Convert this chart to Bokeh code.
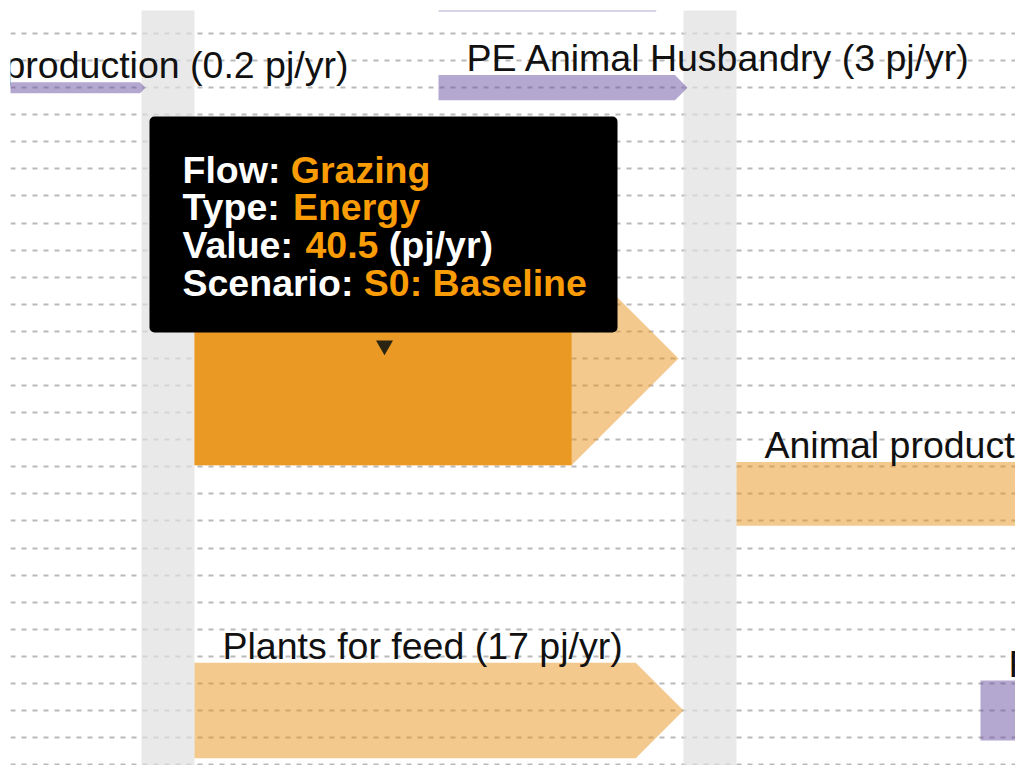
from bokeh.plotting import figure
from bokeh.models import Range1d, FixedTicker, ColumnDataSource, BoxAnnotation, Label, Grid
from bokeh.core.properties import value
from bokeh.embed import file_html
from bokeh.resources import INLINE

# ---------------- data ----------------
flow_names = ["", "production", "PE Animal Husbandry", "Grazing",
              "Animal products", "Plants for feed", "PE Plant production"]
flow_values = [0.0, 0.2, 3, 40.5, 10.7, 17, 9.9]          # pj/yr
flow_types = ["PE", "PE", "PE", "Energy", "Energy", "Energy", "PE"]
show_label = [False, True, True, False, True, True, True]
hovered_flow = "Grazing"
scenario = "S0: Baseline"
unit = "pj/yr"
tooltip_fields = ["Flow", "Type", "Value", "Scenario"]

# ---------------- layout ----------------
W, H = 1015, 765
FRAME_W, FRAME_H = 1005, 755
ROW0, ROW_H = 23.0, 27.08            # gridline rows (px)
N_ROWS = 28
band_x0 = [131, 673]
BAND_W = 53
flow_row = [-1, 2, 2, 12, 17, 25, 25]
flow_x0 = [428, -34, 428, 184, 726, 184, 970]
flow_x1 = [650, 135, 677, 668, 1400, 673, 1400]
BASE_T, PX_PER_PJ = 10.0, 5.03
LABEL_DX, LABEL_DY = 28, 17

type_color = {"PE": "#6a51a3", "Energy": "#e7931b"}
HOVER_COLOR = "#ea9a24"
TIP_ORANGE = "#f99c06"
FONT = "Liberation Sans"
FSIZE = "37.5px"

p = figure(width=W, height=H, x_range=Range1d(0, FRAME_W), y_range=Range1d(FRAME_H, 0),
           x_axis_location=None, y_axis_location=None, toolbar_location=None,
           output_backend="svg", title=None, min_border_left=10, min_border_top=10,
           min_border_right=0, min_border_bottom=0, outline_line_color=None,
           background_fill_color="white", border_fill_color="white")
p.grid.visible = False

grid_ticks = [ROW0 + ROW_H * k for k in range(N_ROWS)]
g = Grid(dimension=1, ticker=FixedTicker(ticks=grid_ticks), grid_line_color="#b9b9b9",
         grid_line_width=2, grid_line_dash="5 6")
p.add_layout(g)

# gray stage bands
p.quad(left=band_x0, right=[b + BAND_W for b in band_x0], top=[-50] * len(band_x0),
       bottom=[FRAME_H + 50] * len(band_x0), fill_color="#e0e0e0", fill_alpha=0.7,
       line_color=None)

# flow arrows
xs, ys, cols, lx, ly, ltxt = [], [], [], [], [], []
hov = None
for name, v, t, r, x0, x1, sl in zip(flow_names, flow_values, flow_types, flow_row,
                                     flow_x0, flow_x1, show_label):
    c = ROW0 + ROW_H * r
    h = (BASE_T + PX_PER_PJ * v) / 2.0
    xs.append([x0, x1 - h, x1, x1 - h, x0])
    ys.append([c - h, c - h, c, c + h, c + h])
    cols.append(type_color[t])
    if sl:
        lx.append(x0 + LABEL_DX)
        ly.append(c - h - LABEL_DY)
        ltxt.append(f"{name} ({v:g} {unit})")
    if name == hovered_flow:
        hov = dict(x0=x0, x1=x1 - h, top=c - h, bottom=c + h, name=name, v=v, t=t)

p.patches(xs=xs, ys=ys, fill_color=cols, fill_alpha=0.5, line_color=None)

# highlighted (hovered) body
p.quad(left=[hov["x0"]], right=[hov["x1"]], top=[hov["top"]], bottom=[hov["bottom"]],
       fill_color=HOVER_COLOR, line_color=None)

# labels
lsrc = ColumnDataSource(dict(x=lx, y=ly, text=ltxt))
p.text(x="x", y="y", text="text", source=lsrc, text_font=value(FONT),
       text_font_size=value(FSIZE), text_color="#111111", text_baseline="alphabetic",
       text_align="left")

# hover marker
p.scatter(x=[374], y=[335], marker="inverted_triangle", size=17, fill_color="#2b2412",
          line_color=None)

# ---------------- tooltip ----------------
box = BoxAnnotation(left=139, right=607, top=106, bottom=322, fill_color="black",
                    fill_alpha=1.0, line_color=None, border_radius=5)
p.add_layout(box)

TX = 172
line_y = [159, 196.7, 234.4, 272.1]
EM = 37.5
# Arial Bold advance widths (em) of the label parts
label_w = {"Flow": 2.889, "Type": 2.945, "Value": 3.279, "Scenario": 4.835}
vals = [hov["name"], hov["t"], f"{hov['v']:g}", scenario]
for fld, val, yy in zip(tooltip_fields, vals, line_y):
    p.add_layout(Label(x=TX, y=yy, text=f"{fld}:", text_font=FONT, text_font_size=FSIZE,
                       text_font_style="bold", text_color="white",
                       text_baseline="alphabetic"))
    off = label_w[fld] * EM
    p.add_layout(Label(x=TX, y=yy, x_offset=off, text=val, text_font=FONT,
                       text_font_size=FSIZE, text_font_style="bold", text_color=TIP_ORANGE,
                       text_baseline="alphabetic"))
    if fld == "Value":
        off2 = off + (1.946 + 0.278) * EM
        p.add_layout(Label(x=TX, y=yy, x_offset=off2, text=f"({unit})", text_font=FONT,
                           text_font_size=FSIZE, text_font_style="bold", text_color="white",
                           text_baseline="alphabetic"))

open("out.html", "w").write(file_html(p, INLINE))
